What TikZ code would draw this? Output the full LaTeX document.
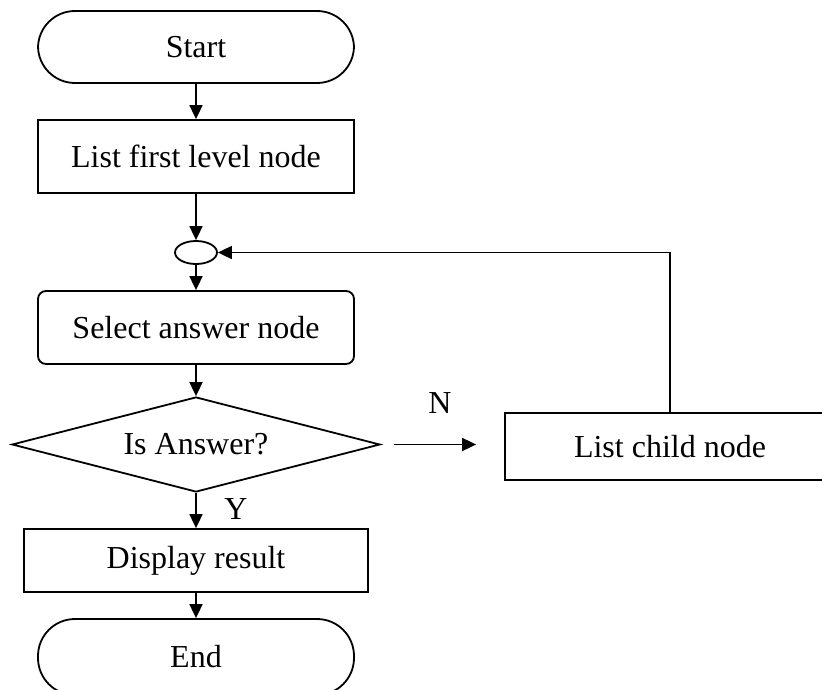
\documentclass[tikz,border=0pt]{standalone}
\usepackage{fontspec}
\setmainfont{Liberation Serif}
\usetikzlibrary{shapes.geometric,arrows.meta,calc}
\begin{document}
\begin{tikzpicture}[x=1pt,y=-1pt,
  every node/.style={font=\fontsize{32}{38}\selectfont, line width=1.8pt},
  box/.style={draw, rectangle, inner sep=0pt},
  term/.style={draw, rectangle, rounded corners=37pt, inner sep=0pt, minimum width=316pt},
  conn/.style={line width=1.8pt, -{Triangle[length=14pt,width=13pt]}},
  plain/.style={line width=1.8pt}]
\useasboundingbox (0,0) rectangle (822,690);
\node[term, minimum height=72pt] (start) at (196,47) {Start};
\node[box, minimum width=316pt, minimum height=73pt] (list1) at (196,156.5) {List first level node};
\node[draw, ellipse, inner sep=0pt, minimum width=42pt, minimum height=23pt] (ell) at (196,252.5) {};
\node[box, rounded corners=8pt, minimum width=316pt, minimum height=73pt] (sel) at (196,327.5) {Select answer node};
\node[draw, diamond, inner sep=0pt, aspect=3.87, minimum width=368pt, minimum height=95pt] (dec) at (196,444.5) {Is Answer?};
\node[box, minimum width=330pt, minimum height=67pt] (child) at (670,446.5) {List child node};
\node[box, minimum width=344pt, minimum height=63pt] (disp) at (196,560.5) {Display result};
\node[term, minimum height=76pt] (end) at (196,657) {End};
\draw[conn] (start) -- (list1);
\draw[conn] (list1) -- (ell);
\draw[conn] (ell) -- (sel);
\draw[conn] (sel) -- (dec);
\draw[conn] (dec) -- (disp);
\draw[conn] (disp) -- (end);
\draw[conn, shorten <=13pt, shorten >=28pt] (dec.east) -- (dec.east -| child.west);
\draw[conn] (child.north) |- (ell.east);
\node (ylab) at (236,509) {Y};
\node (nlab) at (440,403) {N};
\end{tikzpicture}
\end{document}
